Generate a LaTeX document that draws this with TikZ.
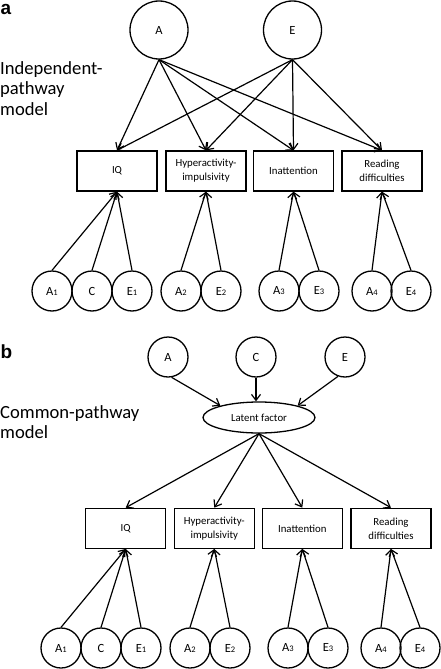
\documentclass[tikz,border=0pt]{standalone}
\usepackage{fontspec}
\setmainfont{Carlito}
\newfontfamily\labfont{Liberation Sans}
\usetikzlibrary{arrows.meta,shapes.geometric}
\newcommand\sbs[1]{{\fontsize{8.5}{8.5}\selectfont #1}}
\tikzset{
  bigc/.style={circle,draw,line width=1.3pt,minimum size=58pt,inner sep=0pt,font=\fontsize{12.5}{14}\selectfont},
  smc/.style={circle,draw,line width=1.3pt,minimum size=40pt,inner sep=0pt,font=\fontsize{12.5}{14}\selectfont},
  box/.style={rectangle,draw,line width=1.3pt,minimum width=80pt,minimum height=40pt,inner sep=0pt,align=center,font=\fontsize{10.8}{14}\selectfont},
  lat/.style={ellipse,draw,line width=1.3pt,minimum width=112pt,minimum height=31pt,inner sep=0pt,font=\fontsize{10.8}{14}\selectfont},
  arr/.style={line width=1.2pt,-{Straight Barb[length=6pt,width=9pt]}},
  plab/.style={inner sep=0pt,font=\labfont\bfseries\fontsize{19}{19}\selectfont},
  mlab/.style={inner sep=0pt,align=left,font=\fontsize{18.6}{20.5}\selectfont},
}
\begin{document}
\begin{tikzpicture}[x=1pt,y=-1pt]
\useasboundingbox (0,0) rectangle (441,669);
% ---------- panel a ----------
\node[plab,anchor=base west] (la) at (0.5,14.5) {a};
\node[mlab,anchor=north west] (ta) at (0,61) {Independent-\\pathway\\model};
\node[bigc] (aA) at (159,30) {A};
\node[bigc] (aE) at (292.5,30) {E};
\node[box] (aIQ) at (117,171) {IQ};
\node[box] (aHy) at (206,171) {Hyperactivity-\\impulsivity};
\node[box] (aIn) at (293.5,171) {Inattention};
\node[box] (aRe) at (382,171) {Reading\\difficulties};
\foreach \t in {aIQ,aHy,aIn,aRe}{
  \draw[arr] (aA.south) -- (\t.north);
  \draw[arr] (aE.south) -- (\t.north);
}
\node[smc] (aA1) at (52,291) {A\sbs{1}};
\node[smc] (aC) at (92,291) {C};
\node[smc] (aE1) at (132,291) {E\sbs{1}};
\node[smc] (aA2) at (181,291) {A\sbs{2}};
\node[smc] (aE2) at (221,291) {E\sbs{2}};
\node[smc] (aA3) at (279,291) {A\sbs{3}};
\node[smc] (aE3) at (319,291) {E\sbs{3}};
\node[smc] (aA4) at (372,291) {A\sbs{4}};
\node[smc] (aE4) at (411,291) {E\sbs{4}};
\foreach \s/\t in {aA1/aIQ,aC/aIQ,aE1/aIQ,aA2/aHy,aE2/aHy,aA3/aIn,aE3/aIn,aA4/aRe,aE4/aRe}{
  \draw[arr] (\s.north) -- (\t.south);
}
% ---------- panel b ----------
\node[plab,anchor=base west] (lb) at (0.5,358) {b};
\node[mlab,anchor=north west] (tb) at (0,405) {Common-pathway\\model};
\node[smc] (bA) at (168,357) {A};
\node[smc] (bC) at (256,357) {C};
\node[smc] (bE) at (345,357) {E};
\node[lat] (lf) at (259,417.5) {Latent factor};
\draw[arr] (bA.280) -- (lf.163);
\draw[arr] (bC.south) -- (bC.south |- lf.north);
\draw[arr] (bE.250) -- (lf.17);
\node[box] (bIQ) at (125.7,528.3) {IQ};
\node[box] (bHy) at (214.3,528.3) {Hyperactivity-\\impulsivity};
\node[box] (bIn) at (302.3,528.3) {Inattention};
\node[box] (bRe) at (391,528.3) {Reading\\difficulties};
\foreach \t in {bIQ,bHy,bIn,bRe}{
  \draw[arr] (lf.south) -- (\t.north);
}
\node[smc] (bA1) at (61,648) {A\sbs{1}};
\node[smc] (bC1) at (101,648) {C};
\node[smc] (bE1) at (141,648) {E\sbs{1}};
\node[smc] (bA2) at (190,648) {A\sbs{2}};
\node[smc] (bE2) at (230,648) {E\sbs{2}};
\node[smc] (bA3) at (288,648) {A\sbs{3}};
\node[smc] (bE3) at (328,648) {E\sbs{3}};
\node[smc] (bA4) at (381,648) {A\sbs{4}};
\node[smc] (bE4) at (420,648) {E\sbs{4}};
\foreach \s/\t in {bA1/bIQ,bC1/bIQ,bE1/bIQ,bA2/bHy,bE2/bHy,bA3/bIn,bE3/bIn,bA4/bRe,bE4/bRe}{
  \draw[arr] (\s.north) -- (\t.south);
}
\end{tikzpicture}
\end{document}
